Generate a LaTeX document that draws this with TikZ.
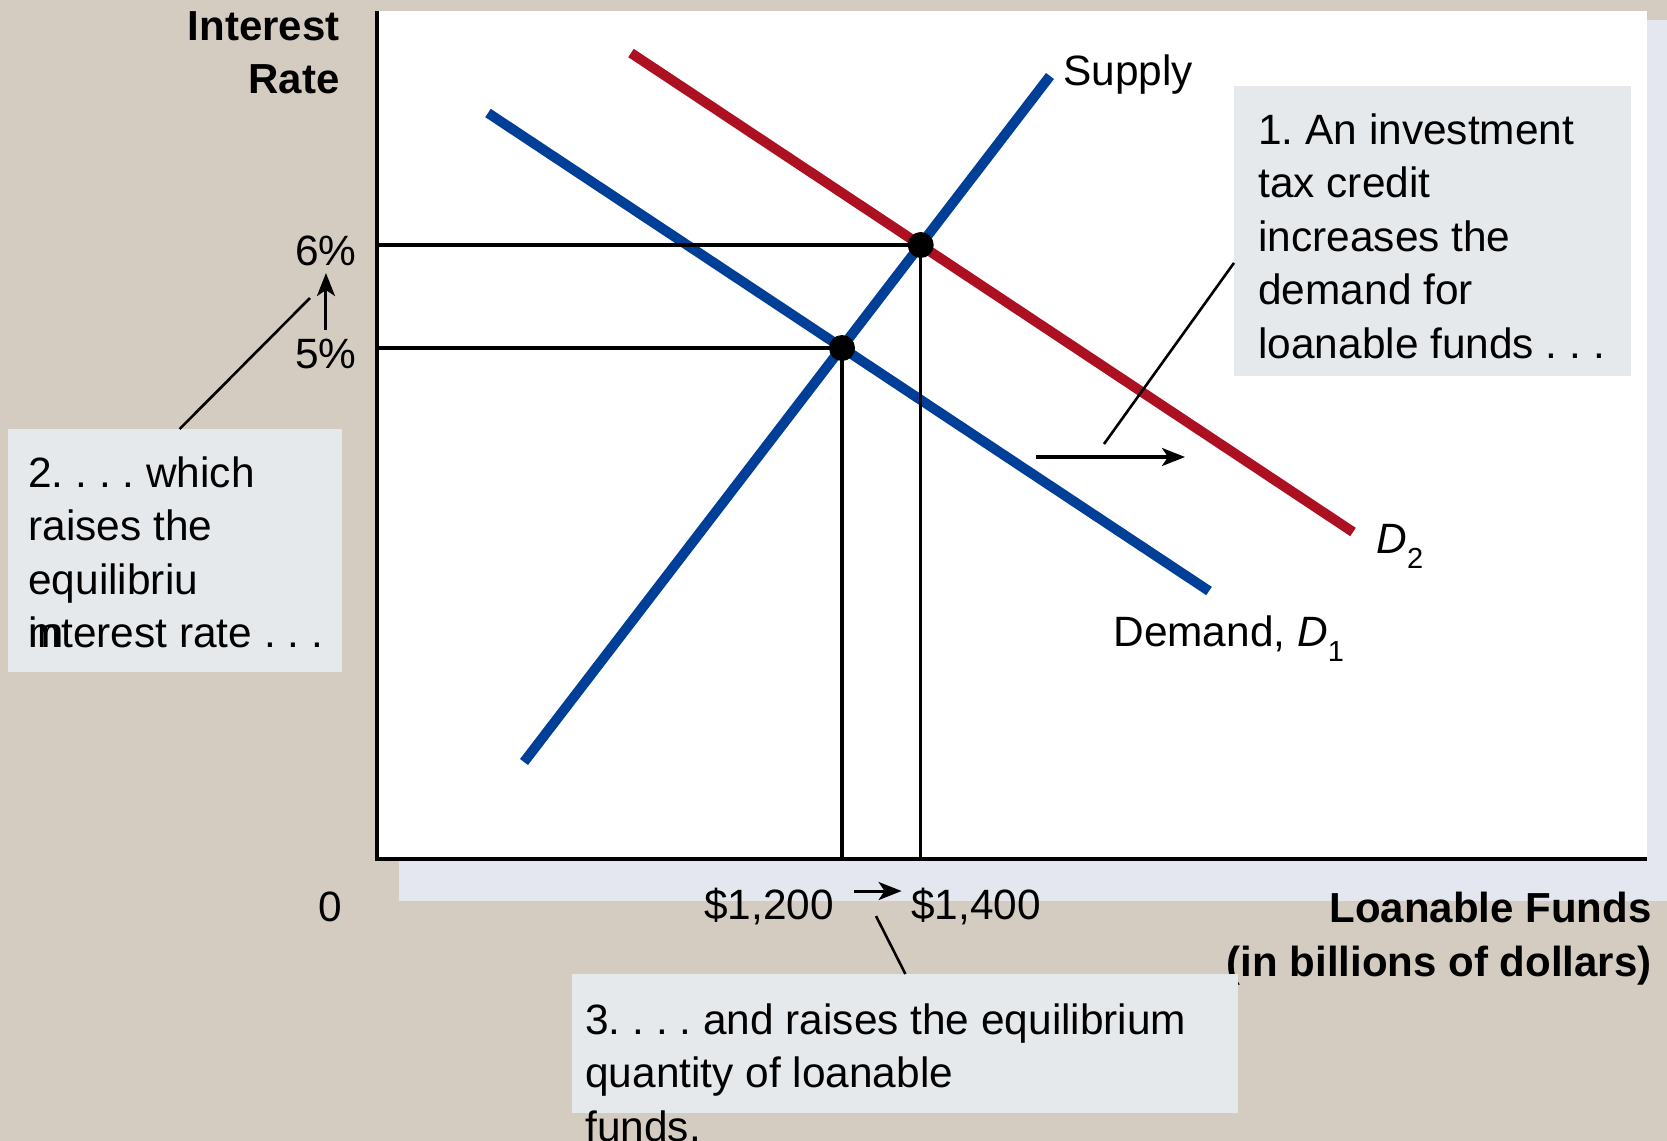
\documentclass[tikz,border=0pt]{standalone}
\usepackage{fontspec}
\setmainfont{Liberation Sans}
\usepackage{tikz}
\usetikzlibrary{arrows.meta}

\definecolor{bgbeige}{RGB}{213,204,193}
\definecolor{shadeblue}{RGB}{228,231,240}
\definecolor{boxgray}{RGB}{230,233,236}
\definecolor{supblue}{RGB}{0,63,152}
\definecolor{demred}{RGB}{173,16,32}

\newcommand{\dsub}[1]{\raisebox{-7.5pt}{\fontsize{14.5}{14.5}\selectfont #1}}
\frenchspacing

\begin{document}
\begin{tikzpicture}[
  x=0.5pt, y=-0.5pt,
  font=\fontsize{21.2}{26.8}\selectfont,
  axisline/.style={line width=1.75pt},
  demcurve/.style={line width=5pt},
  guide/.style={line width=1.6pt},
  leader/.style={line width=1.3pt},
  dot/.style={circle, fill=black, inner sep=0, minimum size=13pt},
  lbl/.style={inner sep=0},
  axlabel/.style={inner sep=0, font=\fontsize{21}{26.75}\selectfont\bfseries},
  box/.style={fill=boxgray, inner sep=0, anchor=north west},
  note/.style={inner sep=0, align=left, anchor=north west},
  smallarrow/.style={-{Stealth[length=11.5pt,width=9pt,inset=3pt]}, line width=1.5pt},
  shiftarrow/.style={-{Stealth[length=11.5pt,width=9pt,inset=3pt]}, line width=1.6pt}
]
  % background, shadow and plot area
  \fill[bgbeige] (0,0) rectangle (1667,1141);
  \useasboundingbox (0,0) rectangle (1667,1141);
  \fill[shadeblue] (399,20) rectangle (1667,901);
  \fill[white] (377,11) rectangle (1647,859);

  % axes
  \coordinate (O) at (377,859);
  \draw[axisline] (377,11) -- (O) -- (1647,859);

  % supply and demand curves
  \draw[demcurve, supblue] (524,762) -- (1050,76);
  \draw[demcurve, supblue] (488,113) -- (1209,591);
  \draw[demcurve, demred] (631,53) -- (1353,532);

  % equilibria
  \node[dot] (eq1) at (842,348) {};
  \node[dot] (eq2) at (920.7,245) {};
  \draw[guide] (O |- eq1) -- (eq1.center) -- (eq1.center |- O);
  \draw[guide] (O |- eq2) -- (eq2.center) -- (eq2.center |- O);

  % axis labels
  \node[axlabel, align=right, anchor=north east] (ylab) at (340,11) {Interest\\Rate};
  \node[axlabel, align=right, anchor=north east] (xlab) at (1652,892) {Loanable Funds\\(in billions of dollars)};
  \node[lbl, anchor=base east] (r6) at (357,265) {6\%};
  \node[lbl, anchor=base east] (r5) at (357,368) {5\%};
  \node[lbl, anchor=base] (zero) at (330,921) {0};
  \node[lbl, anchor=base west] (q1) at (704,919) {\$1,200};
  \node[lbl, anchor=base west] (q2) at (911,919) {\$1,400};
  \draw[smallarrow, shorten <=4.2pt, shorten >=3.6pt] (r5.north) -- (r6.south);
  \draw[smallarrow, shorten <=10pt, shorten >=4.7pt] ([yshift=7.5pt]q1.east) -- ([yshift=7.5pt]q2.west);

  % curve labels
  \node[lbl, anchor=base west] (slab) at (1063,85) {Supply};
  \node[lbl, anchor=base west] (d2lab) at (1376,553) {\textit{D}\dsub{2}};
  \node[lbl, anchor=base west] (d1lab) at (1113,646) {Demand, \textit{D}\dsub{1}};

  % shift of demand
  \coordinate (s0) at (1036,457);
  \coordinate (s1) at (1185,457);
  \draw[shiftarrow] (s0) -- (s1);

  % callout boxes
  \node[box, minimum width=198.5pt, minimum height=145pt] (box1) at (1234,86) {};
  \node[note] (note1) at (1258,113) {1. An investment\\tax credit\\increases the\\demand for\\loanable funds . . .};
  \node[box, minimum width=167pt, minimum height=121.5pt] (box2) at (8,429) {};
  \node[note] (note2) at (28,456) {2. . . . which\\raises the\\equilibriu\\\rlap{m}interest rate . . .};
  \node[box, minimum width=333pt, minimum height=69.5pt] (box3) at (572,974) {};
  \node[note] (note3) at (585,1003) {3. . . . and raises the equilibrium\\quantity of loanable\\funds.};

  % leaders
  \coordinate (c1) at (1104,444);
  \coordinate (c2) at (310,298);
  \coordinate (c3) at (876,916);
  \draw[leader] (box1.189) -- (c1);
  \draw[leader] (box2.88) -- (c2);
  \draw[leader] (c3) -- (box3.north);
\end{tikzpicture}
\end{document}
